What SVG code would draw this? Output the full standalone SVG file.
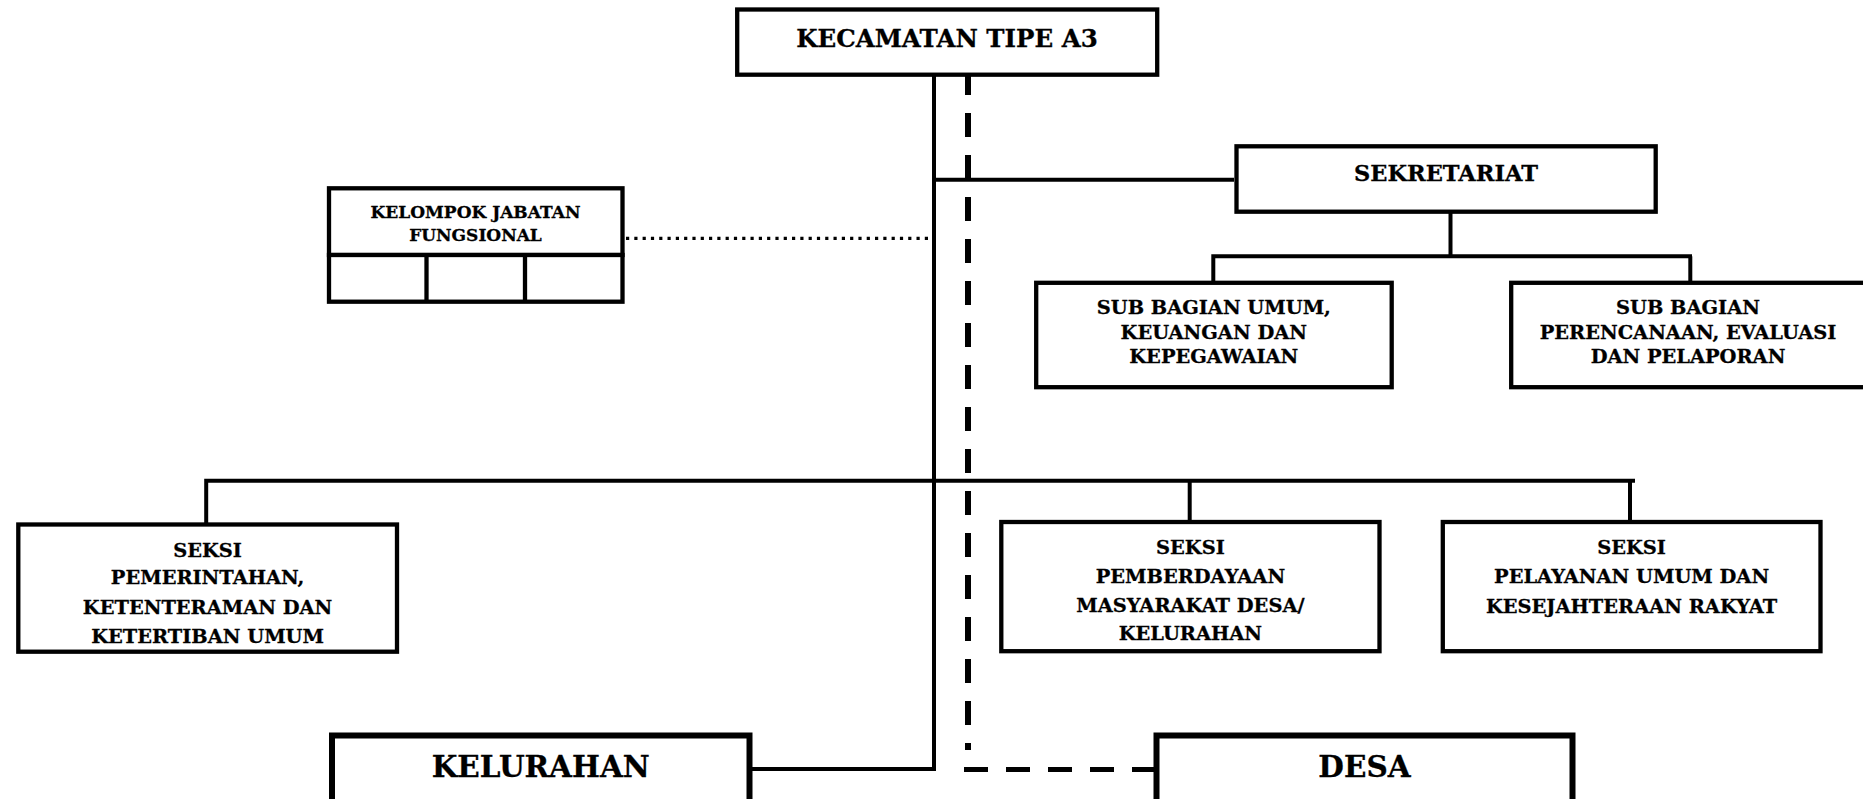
<svg xmlns="http://www.w3.org/2000/svg" width="1863" height="799" viewBox="0 0 1863 799">
<style>
  .box { fill: #ffffff; stroke: #000000; stroke-width: 4.3; }
  .bigbox { fill: #ffffff; stroke: #000000; stroke-width: 6; }
  .ln { fill: none; stroke: #000000; stroke-width: 4; }
  .dash { fill: none; stroke: #000000; stroke-width: 6; stroke-dasharray: 24 18; }
  .dot { fill: none; stroke: #000000; stroke-width: 3.3; stroke-dasharray: 3.2 5.1; }
  text { font-family: "DejaVu Serif", "Liberation Serif", serif; font-weight: bold; fill: #000000; stroke: #000000; stroke-width: 0.3; text-anchor: middle; }
  .t24 { font-size: 24.5px; }
  .t22 { font-size: 22.5px; }
  .t19 { font-size: 19.4px; }
  .t17 { font-size: 17px; }
  .t29 { font-size: 29.5px; }
</style>
<rect width="1863" height="799" fill="#ffffff"/>
<g id="connectors">
  <line class="ln" x1="934" y1="74" x2="934" y2="771"/>
  <line class="dash" x1="968" y1="71" x2="968" y2="750"/>
  <line class="ln" x1="936" y1="179.7" x2="1234" y2="179.7"/>
  <line class="dot" x1="626" y1="238.3" x2="932" y2="238.3"/>
  <line class="ln" x1="1450.5" y1="212" x2="1450.5" y2="256.3"/>
  <polyline class="ln" points="1213.3,283 1213.3,256.3 1692,256.3"/>
  <line class="ln" x1="1690.3" y1="256.3" x2="1690.3" y2="283"/>
  <polyline class="ln" points="206.2,524 206.2,480.8 1635,480.8"/>
  <line class="ln" x1="1189.7" y1="480.8" x2="1189.7" y2="522"/>
  <line class="ln" x1="1630" y1="480.8" x2="1630" y2="522"/>
  <polyline class="ln" points="752,769 934,769"/>
  <line class="dash" x1="964" y1="769.5" x2="1154" y2="769.5" style="stroke-width:5"/>
</g>
<g id="kecamatan">
  <rect class="box" x="737.2" y="9.5" width="420" height="65.2"/>
  <text class="t24" x="947" y="47.3">KECAMATAN TIPE A3</text>
</g>
<g id="sekretariat">
  <rect class="box" x="1236.5" y="146.3" width="419.2" height="65.4"/>
  <text class="t22" x="1446" y="181">SEKRETARIAT</text>
</g>
<g id="kelompok-jabatan-fungsional">
  <rect class="box" x="329" y="188.3" width="293.5" height="66.7"/>
  <rect class="box" x="329" y="255" width="293.5" height="46.7"/>
  <line class="ln" x1="426.5" y1="255" x2="426.5" y2="301.7" style="stroke-width:4.3"/>
  <line class="ln" x1="525" y1="255" x2="525" y2="301.7" style="stroke-width:4.3"/>
  <text class="t17" x="475.5" y="218">KELOMPOK JABATAN</text>
  <text class="t17" x="475.5" y="240.5">FUNGSIONAL</text>
</g>
<g id="subbag-umum">
  <rect class="box" x="1036.2" y="282.8" width="355.5" height="104.4"/>
  <text class="t19" x="1213.8" y="314">SUB BAGIAN UMUM,</text>
  <text class="t19" x="1213.8" y="338.5">KEUANGAN DAN</text>
  <text class="t19" x="1213.8" y="363">KEPEGAWAIAN</text>
</g>
<g id="subbag-perencanaan">
  <rect class="box" x="1511.2" y="282.8" width="370" height="104.4"/>
  <text class="t19" x="1688" y="314">SUB BAGIAN</text>
  <text class="t19" x="1688" y="338.5">PERENCANAAN, EVALUASI</text>
  <text class="t19" x="1688" y="363">DAN PELAPORAN</text>
</g>
<g id="seksi-pemerintahan">
  <rect class="box" x="18.3" y="524.5" width="378.7" height="127.2"/>
  <text class="t19" x="207.6" y="556.5">SEKSI</text>
  <text class="t19" x="207.6" y="584">PEMERINTAHAN,</text>
  <text class="t19" x="207.6" y="613.8">KETENTERAMAN DAN</text>
  <text class="t19" x="207.6" y="643">KETERTIBAN UMUM</text>
</g>
<g id="seksi-pemberdayaan">
  <rect class="box" x="1001.3" y="522" width="378.2" height="129.2"/>
  <text class="t19" x="1190.4" y="554">SEKSI</text>
  <text class="t19" x="1190.4" y="583.3">PEMBERDAYAAN</text>
  <text class="t19" x="1190.4" y="612.3">MASYARAKAT DESA/</text>
  <text class="t19" x="1190.4" y="640">KELURAHAN</text>
</g>
<g id="seksi-pelayanan">
  <rect class="box" x="1442.8" y="522" width="377.7" height="129.2"/>
  <text class="t19" x="1631.6" y="554">SEKSI</text>
  <text class="t19" x="1631.6" y="583.3">PELAYANAN UMUM DAN</text>
  <text class="t19" x="1631.6" y="613.3">KESEJAHTERAAN RAKYAT</text>
</g>
<g id="kelurahan">
  <rect class="bigbox" x="332" y="735.5" width="417.5" height="80"/>
  <text class="t29" x="540.7" y="777">KELURAHAN</text>
</g>
<g id="desa">
  <rect class="bigbox" x="1156.5" y="735.5" width="416" height="80"/>
  <text class="t29" x="1364.5" y="777">DESA</text>
</g>
</svg>
